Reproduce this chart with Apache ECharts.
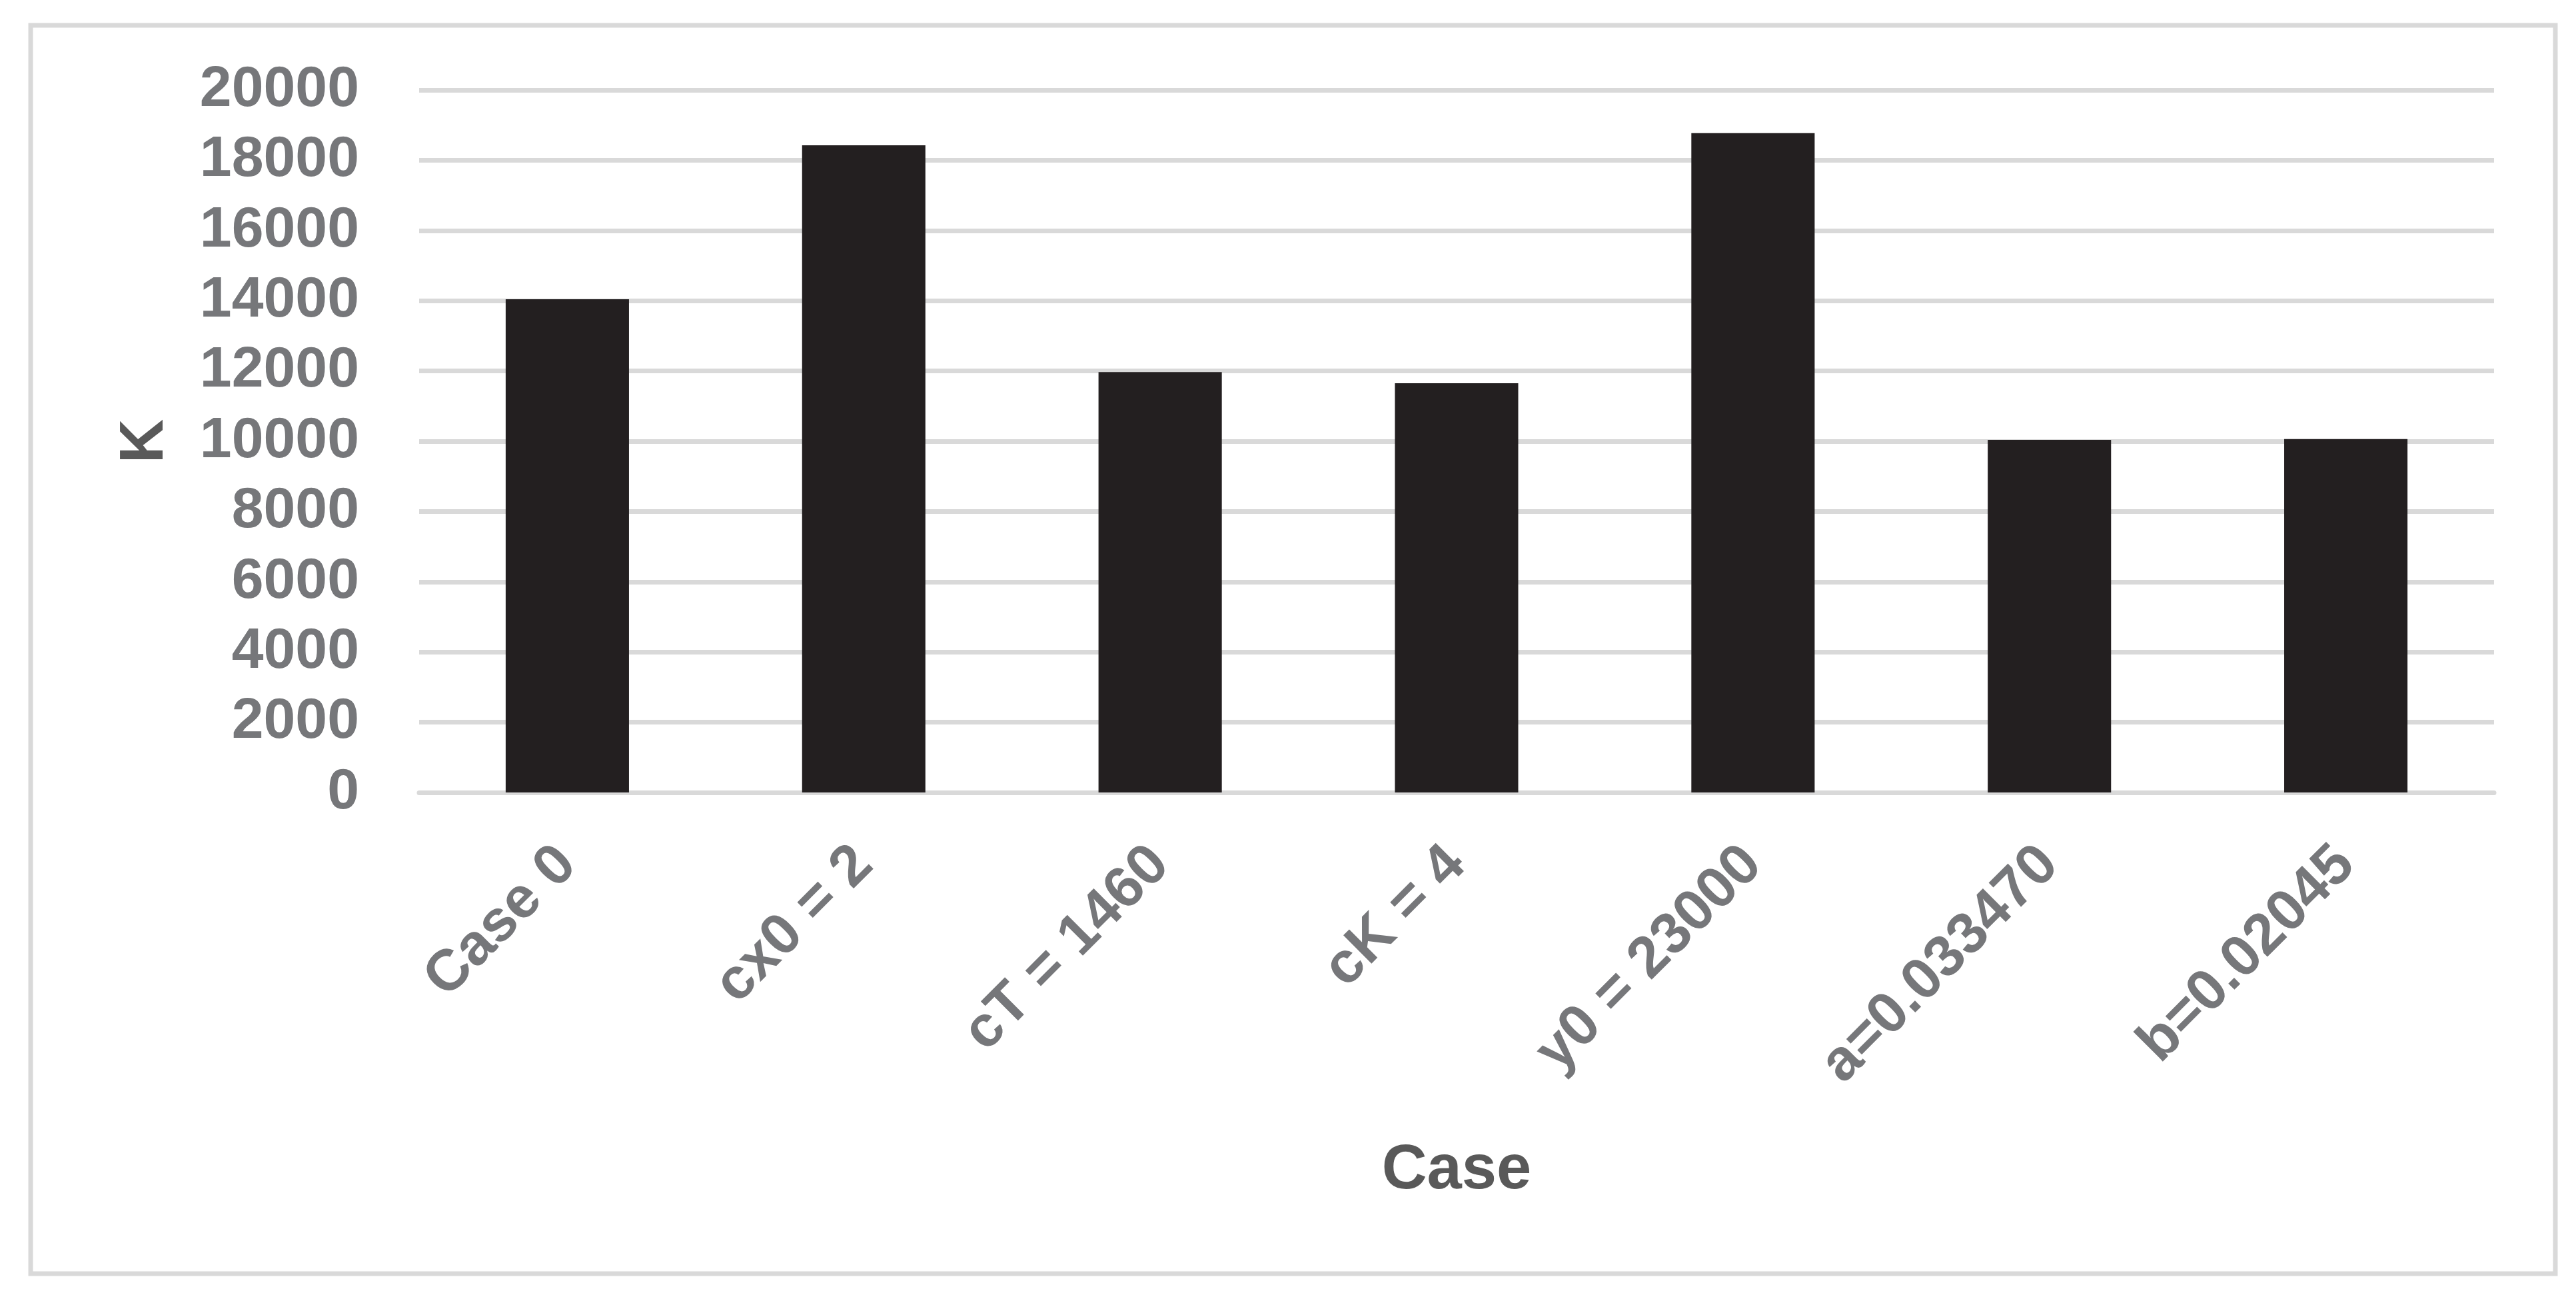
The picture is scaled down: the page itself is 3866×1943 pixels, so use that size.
<!DOCTYPE html>
<html>
<head>
<meta charset="utf-8">
<script src="https://cdn.jsdelivr.net/npm/echarts@6/dist/echarts.min.js"></script>
<style>
    html, body { margin: 0; padding: 0; background: #ffffff; }
    #chart { width: 3866px; height: 1943px; }
</style>
</head>
<body>
<div id="chart"></div>
<script>
// categories and values
const cases = ['Case 0', 'cx0 = 2', 'cT = 1460', 'cK = 4', 'y0 = 23000', 'a=0.033470', 'b=0.02045'];
const k_values = [14040, 18425, 11970, 11650, 18770, 10040, 10060];
const y_ticks = [0, 2000, 4000, 6000, 8000, 10000, 12000, 14000, 16000, 18000, 20000];

document.addEventListener("DOMContentLoaded", function () {
    const font = "'Liberation Sans', Arial, sans-serif";
    const grid_color = '#d9d9d9';

    let chart = echarts.init(document.getElementById('chart'), null, { renderer: 'canvas' });
    let option = {
        animation: false,
        backgroundColor: '#ffffff',
        graphic: [
            {
                // outer chart frame
                type: 'rect',
                shape: { x: 46, y: 38, width: 3789, height: 1873 },
                style: { fill: 'none', stroke: grid_color, lineWidth: 7 },
                silent: true,
            },
        ],
        grid: {
            left: 629,
            right: 123,
            top: 135,
            bottom: 754,
        },
        xAxis: {
            type: 'category',
            data: cases,
            name: 'Case',
            nameLocation: 'middle',
            nameGap: 521,
            nameTextStyle: {
                fontFamily: font,
                fontWeight: 'bold',
                fontSize: 94,
                color: '#595959',
            },
            axisLine: { show: true, lineStyle: { color: grid_color, width: 7 } },
            axisTick: { show: false },
            axisLabel: {
                rotate: 45,
                margin: 95,
                interval: 0,
                fontFamily: font,
                fontWeight: 'bold',
                fontSize: 87,
                color: '#76777a',
            },
        },
        yAxis: {
            type: 'value',
            min: y_ticks[0],
            max: y_ticks[y_ticks.length - 1],
            interval: y_ticks[1] - y_ticks[0],
            name: 'K',
            nameLocation: 'middle',
            nameRotate: 90,
            nameGap: 364,
            nameTextStyle: {
                fontFamily: font,
                fontWeight: 'bold',
                fontSize: 92,
                color: '#595959',
            },
            axisLine: { show: false },
            axisTick: { show: false },
            axisLabel: {
                margin: 90,
                fontFamily: font,
                fontWeight: 'bold',
                fontSize: 86,
                color: '#76777a',
                formatter: (v) => String(v),
            },
            splitLine: { show: true, lineStyle: { color: grid_color, width: 7 } },
        },
        series: [
            {
                type: 'bar',
                name: 'K',
                data: k_values,
                barWidth: '41.6%',
                itemStyle: { color: '#231f20' },
            },
        ],
    };
    chart.setOption(option);
});
</script>
</body>
</html>
